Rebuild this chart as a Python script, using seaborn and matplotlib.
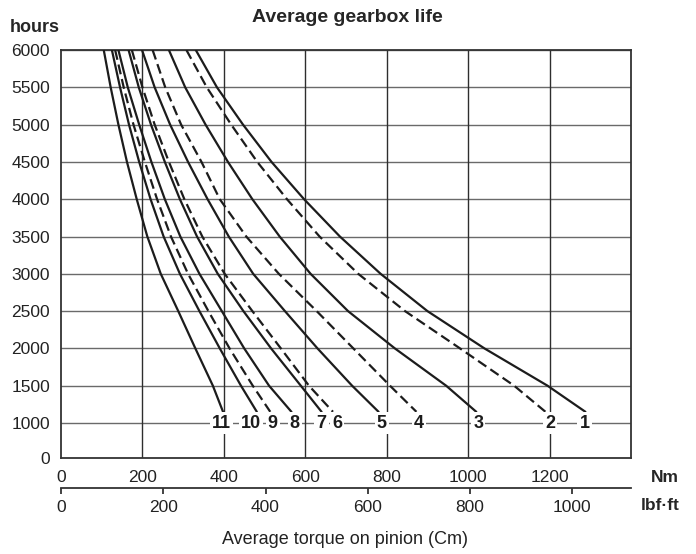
import matplotlib
matplotlib.use("Agg")
import matplotlib.pyplot as plt
import pandas as pd
import seaborn as sns

# ── Data ──────────────────────────────────────────────────────────────────────
hours = [6000, 5500, 5000, 4500, 4000, 3500, 3000, 2500, 2000, 1500, 1150]

torque_1 = [331, 383, 447, 517, 597, 685, 785, 900, 1040, 1195, 1288]
torque_2 = [308, 358, 418, 482, 555, 635, 730, 845, 980, 1113, 1190]
torque_3 = [265, 305, 355, 410, 470, 537, 613, 705, 820, 946, 1020]
torque_4 = [225, 256, 295, 345, 390, 455, 535, 628, 718, 808, 873]
torque_5 = [199, 230, 268, 312, 360, 412, 472, 550, 630, 715, 780]
torque_6 = [174, 200, 230, 265, 303, 347, 402, 470, 540, 609, 668]
torque_7 = [166, 191, 221, 255, 292, 334, 385, 448, 516, 589, 640]
torque_8 = [141, 164, 192, 222, 255, 293, 340, 395, 450, 511, 566]
torque_9 = [133, 154, 178, 206, 236, 270, 312, 362, 414, 471, 514]
torque_10 = [125, 145, 167, 192, 220, 252, 292, 340, 390, 442, 481]
torque_11 = [105, 122, 141, 162, 186, 212, 245, 288, 330, 373, 398]

curve_names = ["1", "2", "3", "4", "5", "6", "7", "8", "9", "10", "11"]
curve_torques = [torque_1, torque_2, torque_3, torque_4, torque_5, torque_6,
                 torque_7, torque_8, torque_9, torque_10, torque_11]
dashed_curves = ["2", "4", "6", "9"]
# where the curve numbers are printed on the 1000 h line (Nm)
label_torque = [1286, 1201, 1025, 879, 788, 678, 640, 574, 520, 467, 394]
label_hour = 1000

nm_ticks = [0, 200, 400, 600, 800, 1000, 1200]
lbf_ticks = [0, 200, 400, 600, 800, 1000]
hour_ticks = [1000, 1500, 2000, 2500, 3000, 3500, 4000, 4500, 5000, 5500, 6000]

NM_PER_LBF = 1.256        # spacing of the lbf·ft scale as drawn
Y_ZERO = 531              # compressed 0..1000 band at the bottom

df = pd.DataFrame({
    "curve": [n for n, t in zip(curve_names, curve_torques) for _ in t],
    "torque": [v for t in curve_torques for v in t],
    "hours": hours * len(curve_names),
})

# ── Style ─────────────────────────────────────────────────────────────────────
sns.set_style("white")
plt.rcParams["font.family"] = ["Liberation Sans", "DejaVu Sans"]
INK = "#1c1c1c"

fig = plt.figure(figsize=(6.96, 5.54), dpi=100)
ax = fig.add_axes([61 / 696, 1 - 458 / 554, 570 / 696, 408 / 554])

for name in curve_names:
    sub = df[df["curve"] == name]
    ls = (0, (4.5, 2.2)) if name in dashed_curves else "-"
    sns.lineplot(data=sub, x="torque", y="hours", ax=ax, sort=False,
                 estimator=None, color=INK, linewidth=1.6, linestyle=ls,
                 zorder=3)

# grid
for h in hour_ticks:
    ax.axhline(h, color="#6a6a6a", linewidth=1.0, zorder=1)
for x in nm_ticks[1:]:
    ax.axvline(x, color="#2e2e2e", linewidth=1.0, zorder=1)

# curve numbers sitting on the 1000 h line
for name, x in zip(curve_names, label_torque):
    ax.text(x, label_hour, name, ha="center", va="center", fontsize=13,
            fontweight="bold", color=INK, zorder=4,
            bbox=dict(boxstyle="square,pad=0.12", fc="white", ec="none"))

ax.set_xlim(0, 1400)
ax.set_ylim(Y_ZERO, 6000)
ax.set_xticks(nm_ticks)
ax.set_xticklabels([str(v) for v in nm_ticks])
ax.set_yticks([Y_ZERO] + hour_ticks)
ax.set_yticklabels(["0"] + [str(v) for v in hour_ticks])
ax.set_xticks([0, 1400], minor=True)
ax.tick_params(axis="both", which="major", length=0, labelsize=12.5,
               colors="#222222")
ax.tick_params(axis="x", which="major", pad=9)
ax.tick_params(axis="y", which="major", pad=8)
ax.tick_params(axis="x", which="minor", length=5, width=1.2, color="#333333")
ax.set_xlabel("")
ax.set_ylabel("")
for s in ax.spines.values():
    s.set_color("#333333")
    s.set_linewidth(1.3)

# lbf·ft scale below
sec = ax.secondary_xaxis(-29.5 / 408, functions=(lambda x: x / NM_PER_LBF,
                                                 lambda x: x * NM_PER_LBF))
sec.set_xticks(lbf_ticks)
sec.tick_params(length=4, width=1.2, pad=5, labelsize=12.5, colors="#222222")
sec.spines["bottom"].set_color("#333333")
sec.spines["bottom"].set_linewidth(1.3)

fig.text(347 / 696, 1 - 17 / 554, "Average gearbox life", ha="center",
         va="center", fontsize=14, fontweight="bold")
fig.text(10 / 696, 1 - 27 / 554, "hours", ha="left", va="center",
         fontsize=13, fontweight="bold")
fig.text(679 / 696, 1 - 477 / 554, "Nm", ha="right", va="center",
         fontsize=12.5, fontweight="bold")
fig.text(680 / 696, 1 - 506 / 554, "lbf·ft", ha="right", va="center",
         fontsize=12.5, fontweight="bold")
fig.text(345 / 696, 1 - 540 / 554, "Average torque on pinion (Cm)",
         ha="center", va="center", fontsize=13, color="#222222")

fig.savefig("out.png", dpi=100)
